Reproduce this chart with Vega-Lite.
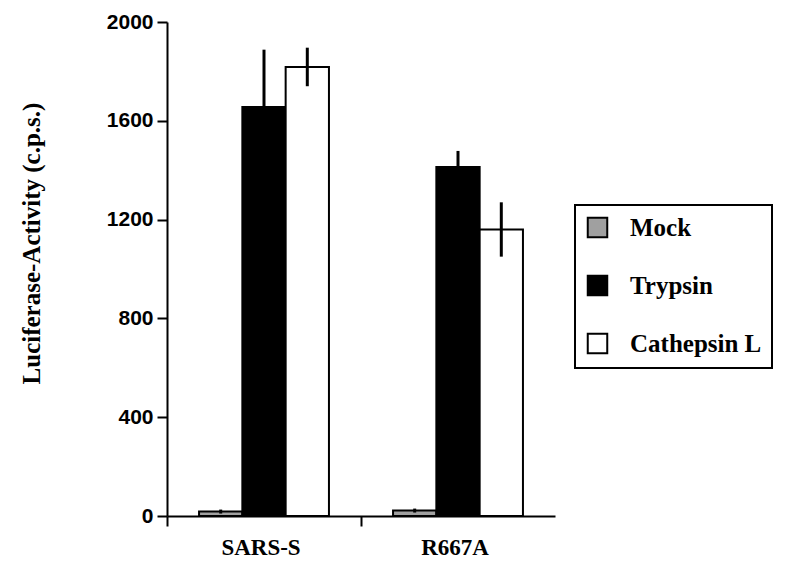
{
  "$schema": "https://vega.github.io/schema/vega-lite/v6.json",
  "autosize": "none",
  "width": 388,
  "height": 494,
  "padding": {"left": 167, "top": 22, "right": 245, "bottom": 59},
  "background": "white",
  "data": {"values": [
    {"group": "SARS-S", "treatment": "Mock", "value": 18, "err": 8},
    {"group": "SARS-S", "treatment": "Trypsin", "value": 1656, "err": 232},
    {"group": "SARS-S", "treatment": "Cathepsin L", "value": 1818, "err": 78},
    {"group": "R667A", "treatment": "Mock", "value": 22, "err": 8},
    {"group": "R667A", "treatment": "Trypsin", "value": 1413, "err": 65},
    {"group": "R667A", "treatment": "Cathepsin L", "value": 1160, "err": 110}
  ]},
  "transform": [
    {"calculate": "datum.value - datum.err", "as": "lo"},
    {"calculate": "datum.value + datum.err", "as": "hi"}
  ],
  "encoding": {
    "x": {"field": "group", "type": "nominal", "sort": ["SARS-S", "R667A"],
      "scale": {"paddingInner": 0, "paddingOuter": 0},
      "axis": {"title": null, "labelAngle": 0, "bandPosition": 0, "labelOffset": -3,
        "domainColor": "black", "domainWidth": 2, "tickColor": "black", "tickWidth": 2, "tickSize": 10,
        "labelFont": "Liberation Serif", "labelFontWeight": "bold", "labelFontSize": 23, "labelColor": "black", "labelPadding": 10}},
    "xOffset": {"field": "treatment", "type": "nominal", "sort": ["Mock", "Trypsin", "Cathepsin L"],
      "scale": {"paddingOuter": 0.74, "paddingInner": 0}}
  },
  "layer": [
    {
      "mark": {"type": "bar", "stroke": "black", "strokeWidth": 2},
      "encoding": {
        "y": {"field": "value", "type": "quantitative",
          "scale": {"domain": [0, 2000], "nice": false},
          "axis": {"values": [0, 400, 800, 1200, 1600, 2000], "format": "d", "grid": false,
            "title": "Luciferase-Activity (c.p.s.)", "titleFont": "Liberation Serif", "titleFontWeight": "bold", "titleFontSize": 25, "titleColor": "black", "titlePadding": 62, "titleY": 221,
            "labelFont": "Liberation Sans", "labelFontWeight": "bold", "labelFontSize": 21, "labelColor": "black", "labelPadding": 4,
            "domainColor": "black", "domainWidth": 2, "tickColor": "black", "tickWidth": 2, "tickSize": 10}},
        "fill": {"field": "treatment", "type": "nominal", "sort": ["Mock", "Trypsin", "Cathepsin L"],
          "scale": {"domain": ["Mock", "Trypsin", "Cathepsin L"], "range": ["#a0a0a0", "#000000", "#ffffff"]},
          "legend": {"title": null, "orient": "none", "legendX": 408, "legendY": 183,
            "direction": "vertical",
            "strokeColor": "black", "padding": 10, "fillColor": "white",
            "symbolType": "square", "symbolSize": 380, "symbolStrokeColor": "black", "symbolStrokeWidth": 2,
            "labelFont": "Liberation Serif", "labelFontWeight": "bold", "labelFontSize": 25, "labelColor": "black",
            "labelOffset": 20, "rowPadding": 29, "labelLimit": 300,
            "encode": {"legend": {"update": {"strokeWidth": {"value": 2}}}}}}
      }
    },
    {
      "mark": {"type": "rule", "color": "black", "strokeWidth": 3},
      "encoding": {
        "y": {"field": "lo", "type": "quantitative"},
        "y2": {"field": "hi"}
      }
    }
  ],
  "config": {"view": {"stroke": null}}
}
